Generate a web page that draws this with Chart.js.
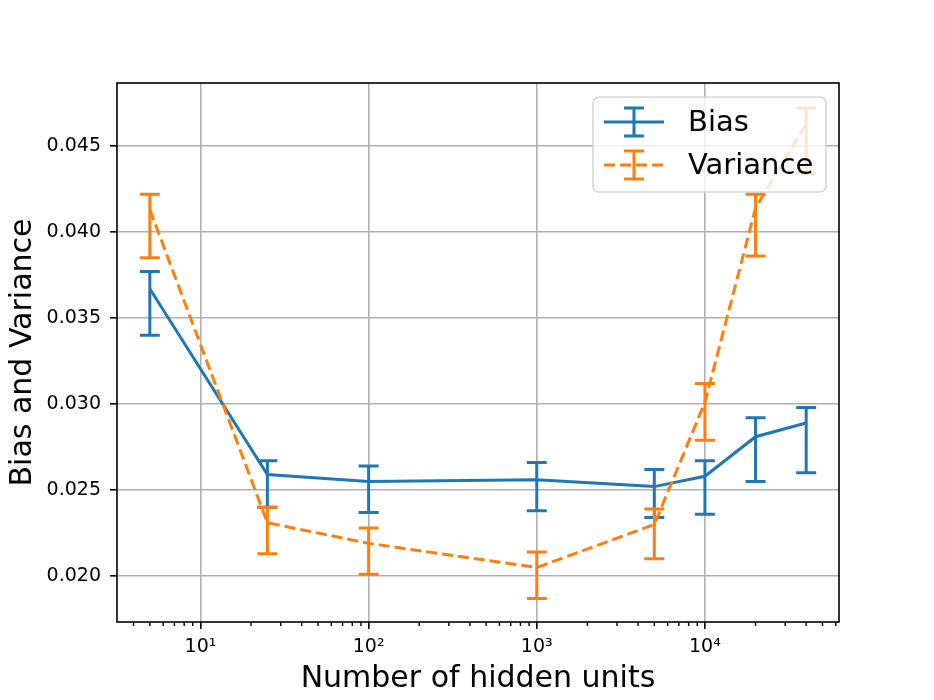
<!DOCTYPE html>
<html>
<head>
<meta charset="utf-8">
<script src="https://cdn.jsdelivr.net/npm/chart.js@4.4.1/dist/chart.umd.min.js"></script>
<style>
  html, body { margin: 0; padding: 0; background: #fff; }
  #wrap { width: 934px; height: 700px; position: relative; }
</style>
</head>
<body>
<div id="wrap"><canvas id="biasVarChart"></canvas></div>
<script>
// ---- data ----
const hiddenUnits = [5, 25, 100, 1000, 5000, 10000, 20000, 40000];

const biasMean = [0.0367, 0.0259, 0.0255, 0.0256, 0.0252, 0.0258, 0.0281, 0.0289];
const biasLow  = [0.0340, 0.0240, 0.0237, 0.0238, 0.0234, 0.0236, 0.0255, 0.0260];
const biasHigh = [0.0377, 0.0267, 0.0264, 0.0266, 0.0262, 0.0267, 0.0292, 0.0298];

const varianceMean = [0.0413, 0.0231, 0.0219, 0.0205, 0.0230, 0.0301, 0.0414, 0.0463];
const varianceLow  = [0.0385, 0.0213, 0.0201, 0.0187, 0.0210, 0.0279, 0.0386, 0.0434];
const varianceHigh = [0.0422, 0.0240, 0.0228, 0.0214, 0.0239, 0.0312, 0.0422, 0.0472];

const xTickValues = [10, 100, 1000, 10000];
const xTickLabels = ['10\u00B9', '10\u00B2', '10\u00B3', '10\u2074'];
const yTickValues = [0.020, 0.025, 0.030, 0.035, 0.040, 0.045];
const yTickLabels = ['0.020', '0.025', '0.030', '0.035', '0.040', '0.045'];

const X_MIN = 3.19, X_MAX = 62700;
const Y_MIN = 0.01733, Y_MAX = 0.04866;

const BLUE = '#1f77b4';
const ORANGE = '#ff7f0e';
const FONT = "'DejaVu Sans', sans-serif";

// error bars with caps, drawn per dataset so orange stays on top
const errorBarPlugin = {
  id: 'errorBars',
  afterDatasetDraw(chart, args) {
    const ds = chart.data.datasets[args.index];
    if (!ds.errLow) return;
    const { ctx } = chart;
    const xs = chart.scales.x, ys = chart.scales.y;
    ctx.save();
    ctx.strokeStyle = ds.borderColor;
    ctx.lineWidth = 3;
    ctx.setLineDash([]);
    ds.data.forEach((pt, i) => {
      const px = xs.getPixelForValue(pt.x);
      const top = ys.getPixelForValue(ds.errHigh[i]);
      const bot = ys.getPixelForValue(ds.errLow[i]);
      ctx.beginPath();
      ctx.moveTo(px, top); ctx.lineTo(px, bot);
      ctx.moveTo(px - 10, top); ctx.lineTo(px + 10, top);
      ctx.moveTo(px - 10, bot); ctx.lineTo(px + 10, bot);
      ctx.stroke();
    });
    ctx.restore();
  }
};

// frame, minor log ticks and the matplotlib-style legend
const framePlugin = {
  id: 'frame',
  afterDraw(chart) {
    const { ctx, chartArea: a } = chart;
    const xs = chart.scales.x;
    ctx.save();
    // minor ticks on the log axis
    ctx.strokeStyle = '#000';
    ctx.lineWidth = 1.4;
    for (let dec = 1; dec <= 100000; dec *= 10) {
      for (let m = 2; m <= 9; m++) {
        const v = dec * m;
        if (v < X_MIN || v > X_MAX) continue;
        const px = xs.getPixelForValue(v);
        ctx.beginPath();
        ctx.moveTo(px, a.bottom);
        ctx.lineTo(px, a.bottom + 4);
        ctx.stroke();
      }
    }
    // spines
    ctx.lineWidth = 1.6;
    ctx.strokeRect(a.left, a.top, a.right - a.left, a.bottom - a.top);

    // legend box
    const lx = a.right - 246, ly = a.top + 14, lw = 233, lh = 95;
    ctx.beginPath();
    ctx.roundRect(lx, ly, lw, lh, 6);
    ctx.fillStyle = 'rgba(255,255,255,0.8)';
    ctx.fill();
    ctx.strokeStyle = 'rgba(204,204,204,0.8)';
    ctx.lineWidth = 1.6;
    ctx.stroke();

    const items = [
      { label: 'Bias', color: BLUE, dash: [] },
      { label: 'Variance', color: ORANGE, dash: [11, 5] }
    ];
    items.forEach((it, i) => {
      const cy = ly + 25 + i * 43;
      const x0 = lx + 11, x1 = lx + 71, cx = (x0 + x1) / 2;
      ctx.strokeStyle = it.color;
      ctx.lineWidth = 3;
      ctx.setLineDash(it.dash);
      ctx.beginPath();
      ctx.moveTo(x0, cy); ctx.lineTo(x1, cy);
      ctx.stroke();
      ctx.setLineDash([]);
      ctx.beginPath();
      ctx.moveTo(cx, cy - 14); ctx.lineTo(cx, cy + 14);
      ctx.moveTo(cx - 10, cy - 14); ctx.lineTo(cx + 10, cy - 14);
      ctx.moveTo(cx - 10, cy + 14); ctx.lineTo(cx + 10, cy + 14);
      ctx.stroke();
      ctx.fillStyle = '#000';
      ctx.font = '29px ' + FONT;
      ctx.textBaseline = 'middle';
      ctx.textAlign = 'left';
      ctx.fillText(it.label, lx + 95, cy + 1);
    });
    ctx.restore();
  }
};

const toPoints = (ys) => hiddenUnits.map((x, i) => ({ x: x, y: ys[i] }));

new Chart(document.getElementById('biasVarChart'), {
  type: 'line',
  data: {
    datasets: [
      {
        label: 'Bias',
        data: toPoints(biasMean),
        errLow: biasLow,
        errHigh: biasHigh,
        borderColor: BLUE,
        borderWidth: 3,
        pointRadius: 0,
        tension: 0,
        fill: false,
        order: 1
      },
      {
        label: 'Variance',
        data: toPoints(varianceMean),
        errLow: varianceLow,
        errHigh: varianceHigh,
        borderColor: ORANGE,
        borderWidth: 3,
        borderDash: [11, 5],
        pointRadius: 0,
        tension: 0,
        fill: false,
        order: 0
      }
    ]
  },
  options: {
    responsive: true,
    maintainAspectRatio: false,
    animation: false,
    layout: { padding: { left: 0, top: 83, right: 95, bottom: 0 } },
    plugins: { legend: { display: false }, tooltip: { enabled: false } },
    scales: {
      x: {
        type: 'logarithmic',
        min: X_MIN,
        max: X_MAX,
        afterBuildTicks: (s) => { s.ticks = xTickValues.map(v => ({ value: v })); },
        afterFit: (s) => { s.height = 78; },
        grid: { color: '#b0b0b0', lineWidth: 1.6, tickColor: '#000', tickLength: 7 },
        border: { display: false },
        ticks: {
          color: '#000',
          font: { family: FONT, size: 19 },
          padding: 7,
          maxRotation: 0,
          autoSkip: false,
          callback: (v) => xTickLabels[xTickValues.indexOf(v)]
        },
        title: {
          display: true,
          text: 'Number of hidden units',
          color: '#000',
          font: { family: FONT, size: 30 },
          padding: { top: 0, bottom: 3 }
        }
      },
      y: {
        min: Y_MIN,
        max: Y_MAX,
        afterBuildTicks: (s) => { s.ticks = yTickValues.map(v => ({ value: v })); },
        afterFit: (s) => { s.width = 117; },
        grid: { color: '#b0b0b0', lineWidth: 1.6, tickColor: '#000', tickLength: 7 },
        border: { display: false },
        ticks: {
          color: '#000',
          font: { family: FONT, size: 19 },
          padding: 9,
          callback: (v) => yTickLabels[yTickValues.indexOf(v)]
        },
        title: {
          display: true,
          text: 'Bias and Variance',
          color: '#000',
          font: { family: FONT, size: 30 },
          padding: { top: 5, bottom: 0 }
        }
      }
    }
  },
  plugins: [errorBarPlugin, framePlugin]
});
</script>
</body>
</html>
